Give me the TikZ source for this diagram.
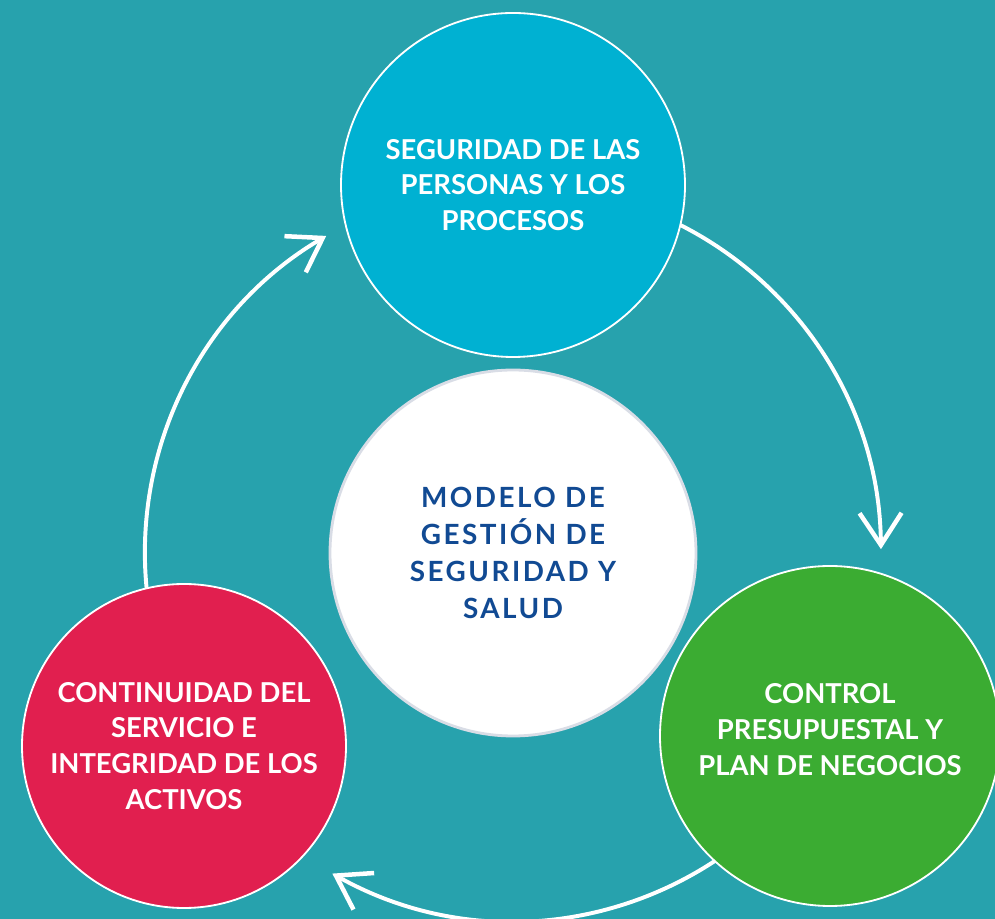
\documentclass[tikz,border=0pt]{standalone}
\usepackage{fontspec}
\setmainfont{Lato}
\newfontfamily\hubfont[LetterSpace=9]{Lato}
\usetikzlibrary{arrows.meta, calc, positioning}

\definecolor{teal bg}{HTML}{27A2AD}
\definecolor{sky}{HTML}{00B1D2}
\definecolor{crimson}{HTML}{E11F4F}
\definecolor{leaf}{HTML}{3BAC32}
\definecolor{navy}{HTML}{114A93}
\definecolor{rim}{HTML}{D9DDE6}

\tikzset{
  bubble/.style={circle, draw=white, line width=1.3pt, align=center, text=white,
    font=\bfseries\fontsize{19.5}{25.5}\selectfont, inner sep=0pt},
  hub/.style={circle, fill=white, draw=rim, line width=2pt, align=center, text=navy,
    font=\hubfont\bfseries\fontsize{19.8}{26.5}\selectfont, inner sep=0pt},
  flow/.style={draw=white, line width=2.8pt,
    -{Straight Barb[length=0.8cm, width=1.05cm, line width=3.2pt]}}
}

\begin{document}
\begin{tikzpicture}

% canvas
\fill[teal bg] (0,0) rectangle (24.875,22.975);
\useasboundingbox (0,0) rectangle (24.875,22.975);

% cycle ring
\coordinate (ring) at (12.825,9.15);
\draw[flow] ($(ring)+(90:9.2)$) arc[start angle=90, end angle=0.6, radius=9.2cm];
\draw[flow] ($(ring)+(-30:9.2)$) arc[start angle=-30, end angle=-119.4, radius=9.2cm];
\draw[flow] ($(ring)+(200:9.2)$) arc[start angle=200, end angle=120.5, radius=9.2cm];

% stages
\node[bubble, fill=sky, minimum size=8.6cm] (people) at (12.825,18.35)
  {SEGURIDAD DE LAS\\PERSONAS Y LOS\\PROCESOS};
\node[bubble, fill=leaf, minimum size=8.5cm] (budget) at (20.75,4.575)
  {CONTROL\\PRESUPUESTAL Y\\PLAN DE NEGOCIOS\\[-16pt]\mbox{}};
\node[bubble, fill=crimson, minimum size=8.1cm] (assets) at (4.6,4.325)
  {CONTINUIDAD DEL\\SERVICIO E\\INTEGRIDAD DE LOS\\ACTIVOS};

% centre
\node[hub, minimum size=9.15cm] (model) at (ring)
  {MODELO DE\\GESTIÓN DE\\SEGURIDAD Y\\SALUD};

\end{tikzpicture}
\end{document}
